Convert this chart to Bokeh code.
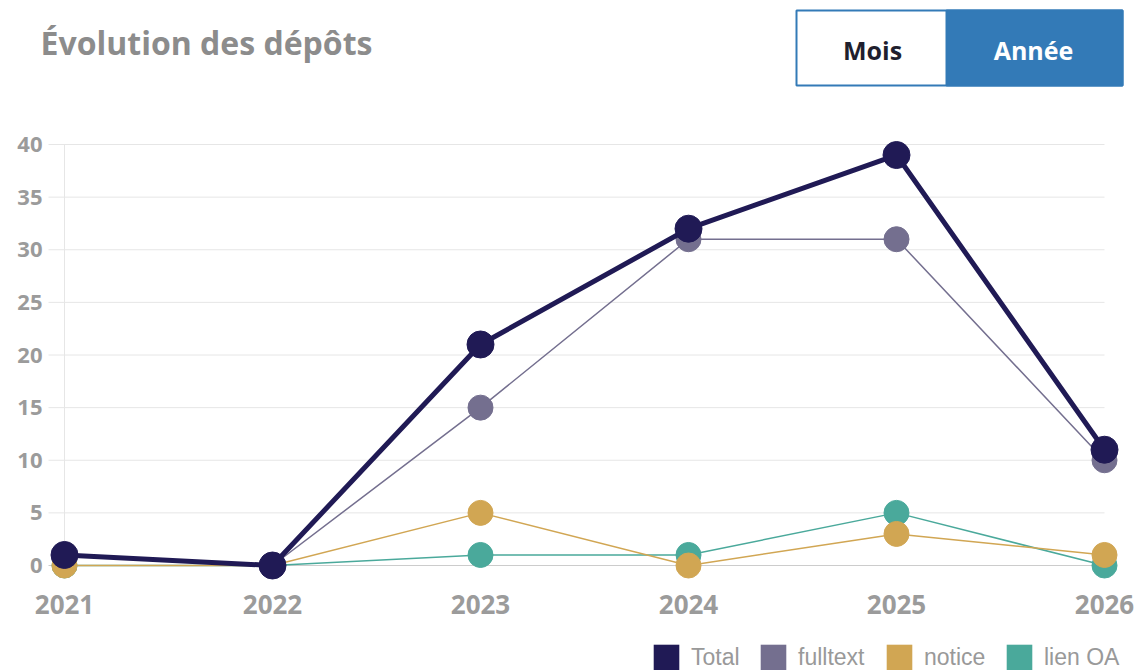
from bokeh.plotting import figure
from bokeh.models import (ColumnDataSource, Range1d, Label, BoxAnnotation,
                          Legend, LegendItem)
from bokeh.core.properties import value
from bokeh.embed import file_html
from bokeh.resources import INLINE

# ---------------- data ----------------
years = [2021, 2022, 2023, 2024, 2025, 2026]
total = [1, 0, 21, 32, 39, 11]
fulltext = [1, 0, 15, 31, 31, 10]
notice = [0, 0, 5, 0, 3, 1]
lien_oa = [0, 0, 1, 1, 5, 0]
y_ticks = [0, 5, 10, 15, 20, 25, 30, 35, 40]
series_names = ["Total", "fulltext", "notice", "lien OA"]
title_text = "Évolution des dépôts"
button_labels = ["Mois", "Année"]

# ---------------- style ----------------
colors = {"Total": "#201a55", "fulltext": "#746f8f",
          "notice": "#d1a653", "lien OA": "#4aa99b"}
widths = {"Total": 5, "fulltext": 1.5, "notice": 1.5, "lien OA": 1.5}
sizes = {"Total": 27, "fulltext": 25, "notice": 25, "lien OA": 25}
legend_left = {"Total": 650, "fulltext": 757, "notice": 883, "lien OA": 1003}
AXIS_GRAY = "#9b9b9b"
GRID = "#e6e6e6"
BLUE = "#337ab7"
FONT = "Open Sans"

W, H = 1140, 670
PX_YEAR = 208.0
X_START = years[0] - 64 / PX_YEAR
X_END = X_START + W / PX_YEAR
PX_UNIT = 10.525
Y_START = -(H - 565) / PX_UNIT
Y_END = Y_START + H / PX_UNIT

p = figure(width=W, height=H, output_backend="svg", toolbar_location=None,
           x_range=Range1d(X_START, X_END), y_range=Range1d(Y_START, Y_END),
           min_border=0, x_axis_location=None, y_axis_location=None)
p.outline_line_color = None
p.xgrid.visible = False
p.ygrid.visible = False

# grid lines (from left edge of the plot area to the last category)
grid_y = [t for t in y_ticks if t != 0]
GRID_LEFT = years[0] - 16 / PX_YEAR
p.segment(x0=GRID_LEFT, x1=years[-1], y0=grid_y, y1=grid_y, line_color=GRID, line_width=1)
p.segment(x0=years[0], x1=years[0], y0=y_ticks[0], y1=y_ticks[-1], line_color=GRID, line_width=1)
p.segment(x0=GRID_LEFT, x1=years[-1], y0=y_ticks[0], y1=y_ticks[0], line_color="#cccccc", line_width=1)

# tick labels
p.text(x=[years[0]] * len(y_ticks), y=y_ticks, text=[str(t) for t in y_ticks],
       x_offset=-22, text_align="right", text_baseline="middle",
       text_font=value(FONT), text_font_style="bold", text_font_size="22px",
       text_color=AXIS_GRAY)
p.text(x=years, y=[y_ticks[0]] * len(years), text=[str(y) for y in years],
       y_offset=39, text_align="center", text_baseline="middle",
       text_font=value(FONT), text_font_style="bold", text_font_size="26px",
       text_color=AXIS_GRAY)

data = {"Total": total, "fulltext": fulltext, "notice": notice, "lien OA": lien_oa}
for name in reversed(series_names):
    src = ColumnDataSource(dict(x=years, y=data[name]))
    p.line("x", "y", source=src, line_color=colors[name], line_width=widths[name])
    p.scatter("x", "y", source=src, size=sizes[name], marker="circle",
              fill_color=colors[name], line_color=colors[name])

# legend with square swatches (proxy quads that draw nothing on the plot)
nan = float("nan")
for name in series_names:
    q = p.quad(left=[nan], right=[nan], top=[nan], bottom=[nan],
               fill_color=colors[name], line_color=None)
    leg = Legend(items=[LegendItem(label=name, renderers=[q])],
                 orientation="horizontal", location=(legend_left[name], -3),
                 glyph_width=32, glyph_height=32, label_standoff=9, spacing=0,
                 padding=0, margin=0, border_line_color=None, background_fill_alpha=0,
                 label_text_font="Liberation Sans", label_text_font_size="23px",
                 label_text_color="#999999", label_height=32)
    p.add_layout(leg, "center")

# title
p.add_layout(Label(x=40, y=H - 42, x_units="screen", y_units="screen", text=title_text,
                   text_font=FONT, text_font_style="bold", text_font_size="32px",
                   text_color="#8c8c8c", text_baseline="middle"))

# buttons
p.add_layout(BoxAnnotation(left=796, right=1122, top=H - 10, bottom=H - 85,
                           left_units="screen", right_units="screen",
                           top_units="screen", bottom_units="screen",
                           fill_color="white", fill_alpha=1, line_color=BLUE,
                           line_alpha=1, line_width=2))
p.add_layout(BoxAnnotation(left=946, right=1122, top=H - 10, bottom=H - 85,
                           left_units="screen", right_units="screen",
                           top_units="screen", bottom_units="screen",
                           fill_color=BLUE, fill_alpha=1, line_color=BLUE,
                           line_alpha=1, line_width=2))
p.add_layout(Label(x=872, y=H - 49, x_units="screen", y_units="screen", text=button_labels[0],
                   text_font=FONT, text_font_style="bold", text_font_size="25px",
                   text_color="#1f1f2e", text_align="center", text_baseline="middle"))
p.add_layout(Label(x=1033, y=H - 49, x_units="screen", y_units="screen", text=button_labels[1],
                   text_font=FONT, text_font_style="bold", text_font_size="25px",
                   text_color="white", text_align="center", text_baseline="middle"))

open("out.html", "w").write(file_html(p, INLINE))
